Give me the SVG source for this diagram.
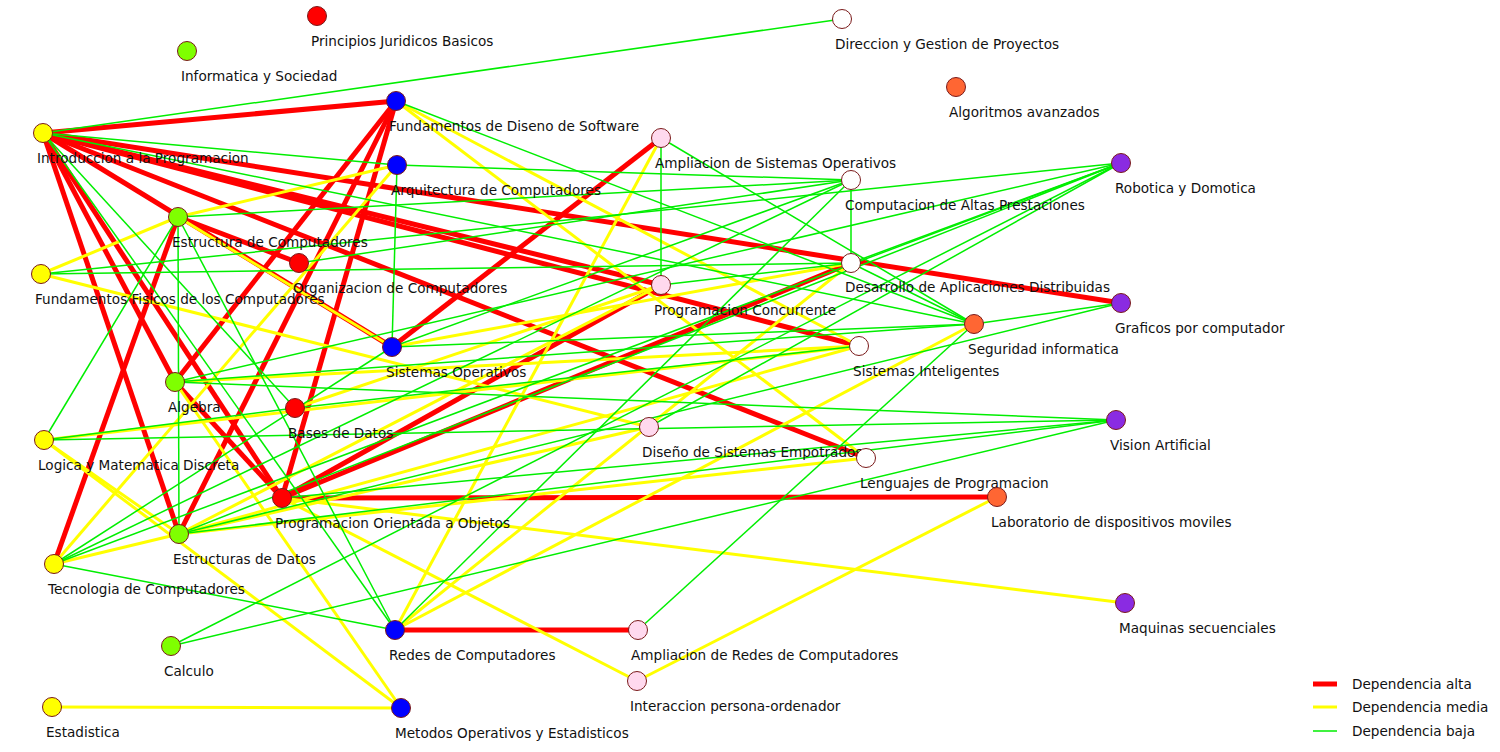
<svg xmlns="http://www.w3.org/2000/svg" width="1500" height="752" viewBox="0 0 1500 752">
<style>
.r{stroke:#ff0000;stroke-width:5;fill:none}
.y{stroke:#ffff00;stroke-width:3;fill:none}
.g{stroke:#00ee00;stroke-width:1.5;fill:none}
.n circle{stroke:#7a1a1a;stroke-width:1}
text{font-family:"DejaVu Sans","Liberation Sans",sans-serif;font-size:13.6px;fill:#111}
</style>
<rect width="1500" height="752" fill="#ffffff"/>
<g id="connectors">
<g id="red-edges">
<line class="r" x1="43" y1="133" x2="396" y2="101"/>
<line class="r" x1="43" y1="133" x2="1121" y2="303"/>
<line class="r" x1="43" y1="133" x2="661" y2="285"/>
<line class="r" x1="43" y1="133" x2="859" y2="346"/>
<line class="r" x1="43" y1="133" x2="866" y2="458"/>
<line class="r" x1="43" y1="133" x2="392" y2="347"/>
<line class="r" x1="43" y1="133" x2="175" y2="382"/>
<line class="r" x1="43" y1="133" x2="179" y2="534"/>
<line class="r" x1="43" y1="133" x2="282" y2="498"/>
<line class="r" x1="396" y1="101" x2="175" y2="382"/>
<line class="r" x1="396" y1="101" x2="179" y2="534"/>
<line class="r" x1="396" y1="101" x2="282" y2="498"/>
<line class="r" x1="178" y1="217" x2="299" y2="263"/>
<line class="r" x1="178" y1="217" x2="54" y2="564"/>
<line class="r" x1="175" y1="382" x2="282" y2="498"/>
<line class="r" x1="282" y1="498" x2="997" y2="497"/>
<line class="r" x1="282" y1="498" x2="851" y2="263"/>
<line class="r" x1="282" y1="498" x2="661" y2="285"/>
<line class="r" x1="392" y1="347" x2="661" y2="138"/>
<line class="r" x1="395" y1="630" x2="638" y2="630"/>
</g>
<g id="yellow-edges">
<line class="y" x1="396" y1="101" x2="859" y2="346"/>
<line class="y" x1="396" y1="101" x2="866" y2="458"/>
<line class="y" x1="178" y1="217" x2="397" y2="165"/>
<line class="y" x1="41" y1="274" x2="178" y2="217"/>
<line class="y" x1="178" y1="217" x2="392" y2="347"/>
<line class="y" x1="397" y1="165" x2="54" y2="564"/>
<line class="y" x1="52" y1="707" x2="401" y2="708"/>
<line class="y" x1="175" y1="382" x2="401" y2="708"/>
<line class="y" x1="44" y1="440" x2="179" y2="534"/>
<line class="y" x1="44" y1="440" x2="401" y2="708"/>
<line class="y" x1="44" y1="440" x2="859" y2="346"/>
<line class="y" x1="175" y1="382" x2="859" y2="346"/>
<line class="y" x1="395" y1="630" x2="851" y2="263"/>
<line class="y" x1="395" y1="630" x2="661" y2="138"/>
<line class="y" x1="395" y1="630" x2="974" y2="324"/>
<line class="y" x1="54" y1="564" x2="179" y2="534"/>
<line class="y" x1="637" y1="681" x2="997" y2="497"/>
<line class="y" x1="282" y1="498" x2="1125" y2="603"/>
<line class="y" x1="282" y1="498" x2="637" y2="681"/>
<line class="y" x1="41" y1="274" x2="649" y2="427"/>
<line class="y" x1="179" y1="534" x2="649" y2="427"/>
<line class="y" x1="392" y1="347" x2="851" y2="263"/>
<line class="y" x1="179" y1="534" x2="661" y2="285"/>
<line class="y" x1="179" y1="534" x2="866" y2="458"/>
<line class="y" x1="295" y1="408" x2="661" y2="285"/>
<line class="y" x1="179" y1="534" x2="859" y2="346"/>
</g>
<g id="green-edges">
<line class="g" x1="43" y1="133" x2="842" y2="19"/>
<line class="g" x1="43" y1="133" x2="397" y2="165"/>
<line class="g" x1="43" y1="133" x2="974" y2="324"/>
<line class="g" x1="43" y1="133" x2="295" y2="408"/>
<line class="g" x1="43" y1="133" x2="395" y2="630"/>
<line class="g" x1="397" y1="165" x2="851" y2="180"/>
<line class="g" x1="397" y1="165" x2="392" y2="347"/>
<line class="g" x1="178" y1="217" x2="851" y2="180"/>
<line class="g" x1="178" y1="217" x2="179" y2="534"/>
<line class="g" x1="178" y1="217" x2="395" y2="630"/>
<line class="g" x1="44" y1="440" x2="178" y2="217"/>
<line class="g" x1="299" y1="263" x2="851" y2="180"/>
<line class="g" x1="41" y1="274" x2="1121" y2="163"/>
<line class="g" x1="41" y1="274" x2="851" y2="263"/>
<line class="g" x1="175" y1="382" x2="1121" y2="163"/>
<line class="g" x1="851" y1="263" x2="1121" y2="163"/>
<line class="g" x1="179" y1="534" x2="1121" y2="163"/>
<line class="g" x1="171" y1="646" x2="1121" y2="163"/>
<line class="g" x1="649" y1="427" x2="1121" y2="163"/>
<line class="g" x1="54" y1="564" x2="1121" y2="163"/>
<line class="g" x1="175" y1="382" x2="1116" y2="420"/>
<line class="g" x1="44" y1="440" x2="1116" y2="420"/>
<line class="g" x1="282" y1="498" x2="1116" y2="420"/>
<line class="g" x1="179" y1="534" x2="1116" y2="420"/>
<line class="g" x1="171" y1="646" x2="1116" y2="420"/>
<line class="g" x1="851" y1="180" x2="851" y2="263"/>
<line class="g" x1="392" y1="347" x2="851" y2="180"/>
<line class="g" x1="395" y1="630" x2="851" y2="180"/>
<line class="g" x1="54" y1="564" x2="851" y2="180"/>
<line class="g" x1="661" y1="138" x2="661" y2="285"/>
<line class="g" x1="661" y1="138" x2="974" y2="324"/>
<line class="g" x1="396" y1="101" x2="974" y2="324"/>
<line class="g" x1="851" y1="263" x2="974" y2="324"/>
<line class="g" x1="974" y1="324" x2="1121" y2="303"/>
<line class="g" x1="179" y1="534" x2="1121" y2="303"/>
<line class="g" x1="44" y1="440" x2="295" y2="408"/>
<line class="g" x1="392" y1="347" x2="974" y2="324"/>
<line class="g" x1="175" y1="382" x2="974" y2="324"/>
<line class="g" x1="295" y1="408" x2="859" y2="346"/>
<line class="g" x1="54" y1="564" x2="395" y2="630"/>
<line class="g" x1="638" y1="630" x2="974" y2="324"/>
<line class="g" x1="661" y1="285" x2="851" y2="263"/>
<line class="g" x1="54" y1="564" x2="392" y2="347"/>
</g>
</g>
<g id="nodes" class="n">
<g id="n-pjb"><circle cx="317" cy="16" r="9.5" fill="#ff0000"/><text x="311" y="46">Principios Juridicos Basicos</text></g>
<g id="n-is"><circle cx="187" cy="51" r="9.5" fill="#7fff00"/><text x="181" y="81">Informatica y Sociedad</text></g>
<g id="n-dgp"><circle cx="842" cy="19" r="9.5" fill="#ffffff"/><text x="835" y="49">Direccion y Gestion de Proyectos</text></g>
<g id="n-aa"><circle cx="956" cy="87" r="9.5" fill="#ff6633"/><text x="949" y="117">Algoritmos avanzados</text></g>
<g id="n-ip"><circle cx="43" cy="133" r="9.5" fill="#ffff00"/><text x="37" y="163">Introduccion a la Programacion</text></g>
<g id="n-fds"><circle cx="396" cy="101" r="9.5" fill="#0000ff"/><text x="389" y="131">Fundamentos de Diseno de Software</text></g>
<g id="n-ac"><circle cx="397" cy="165" r="9.5" fill="#0000ff"/><text x="391" y="195">Arquitectura de Computadores</text></g>
<g id="n-aso"><circle cx="661" cy="138" r="9.5" fill="#ffd9ee"/><text x="655" y="168">Ampliacion de Sistemas Operativos</text></g>
<g id="n-rob"><circle cx="1121" cy="163" r="9.5" fill="#8a2be2"/><text x="1115" y="193">Robotica y Domotica</text></g>
<g id="n-cap"><circle cx="851" cy="180" r="9.5" fill="#ffffff"/><text x="845" y="210">Computacion de Altas Prestaciones</text></g>
<g id="n-ec"><circle cx="178" cy="217" r="9.5" fill="#7fff00"/><text x="172" y="247">Estructura de Computadores</text></g>
<g id="n-oc"><circle cx="299" cy="263" r="9.5" fill="#ff0000"/><text x="293" y="293">Organizacion de Computadores</text></g>
<g id="n-ff"><circle cx="41" cy="274" r="9.5" fill="#ffff00"/><text x="35" y="304">Fundamentos Fisicos de los Computadores</text></g>
<g id="n-dad"><circle cx="851" cy="263" r="9.5" fill="#ffffff"/><text x="845" y="292">Desarrollo de Aplicaciones Distribuidas</text></g>
<g id="n-pc"><circle cx="661" cy="285" r="9.5" fill="#ffd9ee"/><text x="654" y="315">Programacion Concurrente</text></g>
<g id="n-gc"><circle cx="1121" cy="303" r="9.5" fill="#8a2be2"/><text x="1115" y="333">Graficos por computador</text></g>
<g id="n-seg"><circle cx="974" cy="324" r="9.5" fill="#ff6633"/><text x="968" y="354">Seguridad informatica</text></g>
<g id="n-so"><circle cx="392" cy="347" r="9.5" fill="#0000ff"/><text x="386" y="377">Sistemas Operativos</text></g>
<g id="n-si"><circle cx="859" cy="346" r="9.5" fill="#ffffff"/><text x="853" y="376">Sistemas Inteligentes</text></g>
<g id="n-alg"><circle cx="175" cy="382" r="9.5" fill="#7fff00"/><text x="168" y="412">Algebra</text></g>
<g id="n-bd"><circle cx="295" cy="408" r="9.5" fill="#ff0000"/><text x="288" y="438">Bases de Datos</text></g>
<g id="n-va"><circle cx="1116" cy="420" r="9.5" fill="#8a2be2"/><text x="1110" y="450">Vision Artificial</text></g>
<g id="n-lmd"><circle cx="44" cy="440" r="9.5" fill="#ffff00"/><text x="38" y="470">Logica y Matematica Discreta</text></g>
<g id="n-dse"><circle cx="649" cy="427" r="9.5" fill="#ffd9ee"/><text x="642" y="457">Diseño de Sistemas Empotrados</text></g>
<g id="n-lp"><circle cx="866" cy="458" r="9.5" fill="#ffffff"/><text x="860" y="488">Lenguajes de Programacion</text></g>
<g id="n-ldm"><circle cx="997" cy="497" r="9.5" fill="#ff6633"/><text x="991" y="527">Laboratorio de dispositivos moviles</text></g>
<g id="n-poo"><circle cx="282" cy="498" r="9.5" fill="#ff0000"/><text x="275" y="528">Programacion Orientada a Objetos</text></g>
<g id="n-ed"><circle cx="179" cy="534" r="9.5" fill="#7fff00"/><text x="173" y="564">Estructuras de Datos</text></g>
<g id="n-tc"><circle cx="54" cy="564" r="9.5" fill="#ffff00"/><text x="48" y="594">Tecnologia de Computadores</text></g>
<g id="n-ms"><circle cx="1125" cy="603" r="9.5" fill="#8a2be2"/><text x="1119" y="633">Maquinas secuenciales</text></g>
<g id="n-cal"><circle cx="171" cy="646" r="9.5" fill="#7fff00"/><text x="164" y="676">Calculo</text></g>
<g id="n-rc"><circle cx="395" cy="630" r="9.5" fill="#0000ff"/><text x="389" y="660">Redes de Computadores</text></g>
<g id="n-arc"><circle cx="638" cy="630" r="9.5" fill="#ffd9ee"/><text x="631" y="660">Ampliacion de Redes de Computadores</text></g>
<g id="n-ipo"><circle cx="637" cy="681" r="9.5" fill="#ffd9ee"/><text x="630" y="711">Interaccion persona-ordenador</text></g>
<g id="n-est"><circle cx="52" cy="707" r="9.5" fill="#ffff00"/><text x="46" y="737">Estadistica</text></g>
<g id="n-moe"><circle cx="401" cy="708" r="9.5" fill="#0000ff"/><text x="395" y="738">Metodos Operativos y Estadisticos</text></g>
</g>
<g id="legend">
<line class="r" x1="1313" y1="684" x2="1337" y2="684"/>
<text x="1352" y="689">Dependencia alta</text>
<line class="y" x1="1313" y1="707" x2="1337" y2="707"/>
<text x="1352" y="712">Dependencia media</text>
<line class="g" x1="1313" y1="731" x2="1337" y2="731"/>
<text x="1352" y="736">Dependencia baja</text>
</g>
</svg>
